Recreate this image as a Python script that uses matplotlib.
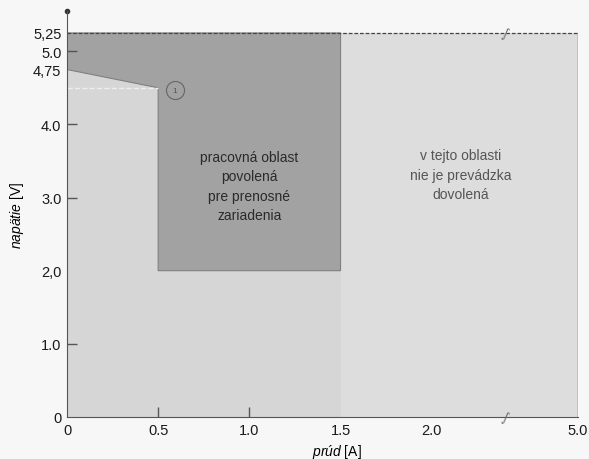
import numpy as np
import matplotlib.pyplot as plt

plt.rcParams.update({
    'font.family': 'Liberation Sans',
    'mathtext.fontset': 'custom',
    'mathtext.it': 'Liberation Sans:italic',
    'mathtext.rm': 'Liberation Sans',
})

x_ticks = [0, 0.5, 1.0, 1.5, 2.0, 5.0]
x_tick_labels = ['0', '0.5', '1.0', '1.5', '2.0', '5.0']
y_ticks = [0, 1.0, 2.0, 3.0, 4.0, 4.75, 5.0, 5.25]
y_tick_labels = ['0', '1.0', '2,0', '3.0', '4.0', '4,75', '5.0', '5,25']

# working area boundary (current [A], voltage [V])
work_i = [0, 0.5, 0.5, 1.5, 1.5, 0]
work_u = [4.75, 4.5, 2.0, 2.0, 5.25, 5.25]
i_max = 5.0
u_max = 5.25
u_knee = 4.5
i_break = 3.5

# compressed axis after 2.0 A (axis break)
K = 146 / 182 / 3


def fwd(v):
    v = np.asarray(v, dtype=float)
    return np.where(v <= 2, v, 2 + (v - 2) * K)


def inv(p):
    p = np.asarray(p, dtype=float)
    return np.where(p <= 2, p, 2 + (p - 2) / K)


fig = plt.figure(figsize=(5.89, 4.6), dpi=100, facecolor='#f7f7f7')
ax = fig.add_axes([67 / 589, 1 - 418 / 460, (578 - 67) / 589, (418 - 12) / 460])
ax.set_facecolor('none')
ax.set_xscale('function', functions=(fwd, inv))
ax.set_xlim(0, i_max)
ax.set_ylim(0, 5.55)

# regions
ax.fill_between([0, 1.5], 0, u_max, color='#d6d6d6', lw=0)
ax.fill_between([1.5, i_max], 0, u_max, color='#dddddd', lw=0)
ax.fill(work_i, work_u, facecolor='#a2a2a2', edgecolor='#808080', lw=0.8)
ax.plot([0, 0.5], [u_knee, u_knee], color='#eeeeee', ls='--', lw=1)

# boundary lines
ax.plot([0, i_max], [u_max, u_max], color='#444444', ls=(0, (3, 1.5)), lw=0.9)
ax.plot([i_max, i_max], [0, u_max], color='#555555', lw=1)
ax.plot(0, 5.55, marker='o', ms=3, color='#333333', clip_on=False)
for u in [0, u_max]:
    ax.text(i_break, u, '∫', ha='center', va='center', fontsize=9,
            color='#666666', family='DejaVu Sans', rotation=-20)

# marker 1
ax.plot(0.59, 4.47, 'o', ms=13, mfc='none', mec='#666666', mew=0.8)
ax.text(0.59, 4.47, '1', fontsize=6, ha='center', va='center', color='#555555')

ax.text(1.0, 3.16, 'pracovná oblast\npovolená\npre prenosné\nzariadenia',
        ha='center', va='center', fontsize=10, linespacing=1.5, color='#2a2a2a')
ax.text(2.6, 3.31, 'v tejto oblasti\nnie je prevádzka\ndovolená',
        ha='center', va='center', fontsize=10, linespacing=1.5, color='#555555')

for s in ['top', 'right']:
    ax.spines[s].set_visible(False)
for s in ['left', 'bottom']:
    ax.spines[s].set_color('#555555')

ax.set_xticks(x_ticks)
ax.set_xticklabels(x_tick_labels)
ax.set_yticks(y_ticks)
ax.set_yticklabels(y_tick_labels)
ax.tick_params(direction='in', length=7, width=1, color='#555555',
               labelsize=10.5, labelcolor='#1a1a1a', pad=4)
for i, t in enumerate(ax.xaxis.get_major_ticks()):
    if x_ticks[i] not in (0.5, 1.0):
        t.tick1line.set_visible(False)
for i, t in enumerate(ax.yaxis.get_major_ticks()):
    if y_ticks[i] in (0, 2.0, 4.75, 5.25):
        t.tick1line.set_visible(False)

ax.set_xlabel(r'$\mathit{prúd}$ [A]', fontsize=10)
ax.xaxis.set_label_coords(0.528, -0.062)
ax.set_ylabel(r'$\mathit{napätie}$ [V]', fontsize=10)
ax.yaxis.set_label_coords(-0.080, 0.5)

fig.savefig('out.png', dpi=100, facecolor=fig.get_facecolor())
